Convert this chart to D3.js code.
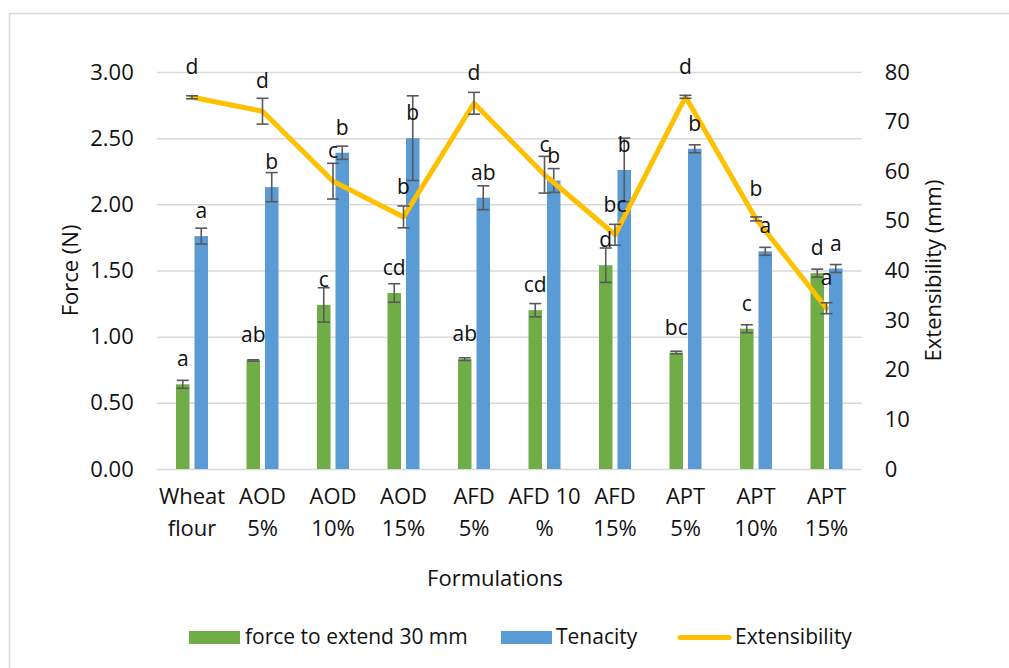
<!DOCTYPE html>
<html>
<head>
<meta charset="utf-8">
<script src="https://cdn.jsdelivr.net/npm/d3@7"></script>
<style>
  body { margin: 0; background: #fff; }
  text { font-family: "Open Sans", sans-serif; fill: #111; }
</style>
</head>
<body>
<svg id="chart" width="1009" height="668"></svg>
<script>
// formulations, two text lines each
const formulations = [
  ["Wheat", "flour"], ["AOD", "5%"], ["AOD", "10%"], ["AOD", "15%"], ["AFD", "5%"],
  ["AFD 10", "%"], ["AFD", "15%"], ["APT", "5%"], ["APT", "10%"], ["APT", "15%"]
];

// force to extend 30 mm (N)
const forceValues  = [0.64, 0.82, 1.24, 1.33, 0.83, 1.20, 1.54, 0.88, 1.06, 1.48];
const forceErr     = [0.03, 0.005, 0.13, 0.07, 0.01, 0.05, 0.13, 0.01, 0.03, 0.03];
const forceLetters = ["a", "ab", "c", "cd", "ab", "cd", "d", "bc", "c", "d"];

// tenacity (N)
const tenacityValues  = [1.76, 2.13, 2.39, 2.50, 2.05, 2.18, 2.26, 2.42, 1.645, 1.515];
const tenacityErr     = [0.06, 0.11, 0.05, 0.32, 0.09, 0.09, 0.24, 0.03, 0.03, 0.03];
const tenacityLetters = ["a", "b", "b", "b", "ab", "b", "b", "b", "a", "a"];

// extensibility (mm)
const extValues  = [74.9, 72.1, 58.0, 50.8, 73.7, 59.3, 47.2, 75.0, 50.4, 32.4];
const extErr     = [0.3, 2.6, 3.6, 2.2, 2.2, 3.7, 2.1, 0.3, 0.4, 1.1];
const extLetters = ["d", "d", "c", "b", "d", "c", "bc", "d", "b", "a"];

const forceTicks = [0, 0.5, 1, 1.5, 2, 2.5, 3];
const extTicks = [0, 10, 20, 30, 40, 50, 60, 70, 80];

const green = "#70AD47", blue = "#5B9BD5", gold = "#FFC000", errColor = "#595959", gridColor = "#d9d9d9";

const svg = d3.select("#chart");

const plotLeft = 156.75, plotRight = 861.75, plotTop = 72, plotBottom = 469;

const x = d3.scaleBand()
  .domain(d3.range(formulations.length))
  .range([plotLeft, plotRight]);

const xSub = d3.scaleBand()
  .domain(["force", "tenacity"])
  .range([-16, 16])
  .paddingInner(0.27);

const yL = d3.scaleLinear().domain([0, 3]).range([plotBottom, plotTop]);
const yR = d3.scaleLinear().domain([0, 80]).range([plotBottom, plotTop]);

const cx = i => x(i) + x.bandwidth() / 2;

// chart border
svg.append("rect")
  .attr("x", 9.5).attr("y", 13.5)
  .attr("width", 1100).attr("height", 700)
  .attr("fill", "none").attr("stroke", gridColor).attr("stroke-width", 1.5);

// gridlines
svg.append("g")
  .attr("transform", `translate(${plotLeft},0)`)
  .call(d3.axisLeft(yL).tickValues(forceTicks).tickSize(-(plotRight - plotLeft)).tickFormat(""))
  .call(g => g.select(".domain").remove())
  .call(g => g.selectAll("line").attr("stroke", gridColor).attr("stroke-width", 1.5));

// left axis
svg.append("g")
  .attr("transform", `translate(${plotLeft},0)`)
  .call(d3.axisLeft(yL).tickValues(forceTicks).tickFormat(d3.format(".2f")).tickSize(0).tickPadding(23))
  .call(g => g.select(".domain").remove())
  .call(g => g.selectAll("text").attr("font-size", 22).attr("fill", "#111"));

// right axis
svg.append("g")
  .attr("transform", `translate(${plotRight},0)`)
  .call(d3.axisRight(yR).tickValues(extTicks).tickSize(0).tickPadding(23))
  .call(g => g.select(".domain").remove())
  .call(g => g.selectAll("text").attr("font-size", 22).attr("fill", "#111"));

// x axis labels
const xAxis = svg.append("g")
  .attr("transform", `translate(0,${plotBottom})`)
  .call(d3.axisBottom(x).tickSize(0).tickFormat(""))
  .call(g => g.select(".domain").remove());

xAxis.selectAll(".tick text")
  .attr("font-size", 22)
  .attr("fill", "#111")
  .attr("y", 0).attr("dy", null)
  .each(function (i) {
    const t = d3.select(this);
    formulations[i].forEach((line, k) => {
      t.append("tspan").attr("x", 0).attr("y", 35 + k * 32).text(line);
    });
  });

// axis titles
svg.append("text")
  .attr("transform", `translate(78,${(plotTop + plotBottom) / 2}) rotate(-90)`)
  .attr("text-anchor", "middle")
  .attr("font-size", 22)
  .text("Force (N)");

svg.append("text")
  .attr("transform", `translate(941,${(plotTop + plotBottom) / 2}) rotate(-90)`)
  .attr("text-anchor", "middle")
  .attr("font-size", 22)
  .text("Extensibility (mm)");

svg.append("text")
  .attr("x", 495).attr("y", 586)
  .attr("text-anchor", "middle")
  .attr("font-size", 22)
  .text("Formulations");

// bars
const series = [
  { key: "force", values: forceValues, err: forceErr, letters: forceLetters, color: green },
  { key: "tenacity", values: tenacityValues, err: tenacityErr, letters: tenacityLetters, color: blue }
];

series.forEach(s => {
  const bx = i => cx(i) + xSub(s.key);
  const g = svg.append("g");
  g.selectAll("rect")
    .data(s.values)
    .enter()
    .append("rect")
    .attr("x", (d, i) => bx(i))
    .attr("y", d => yL(d))
    .attr("width", xSub.bandwidth())
    .attr("height", d => yL(0) - yL(d))
    .attr("fill", s.color);
  s.bx = bx;
});

function errorBars(g, values, err, xf, yScale) {
  const eb = g.selectAll("g")
    .data(values)
    .enter()
    .append("g")
    .attr("stroke", errColor)
    .attr("stroke-width", 1.6);
  eb.append("line")
    .attr("x1", (d, i) => xf(i)).attr("x2", (d, i) => xf(i))
    .attr("y1", (d, i) => yScale(d - err[i])).attr("y2", (d, i) => yScale(d + err[i]));
  eb.append("line")
    .attr("x1", (d, i) => xf(i) - 6).attr("x2", (d, i) => xf(i) + 6)
    .attr("y1", (d, i) => yScale(d + err[i])).attr("y2", (d, i) => yScale(d + err[i]));
  eb.append("line")
    .attr("x1", (d, i) => xf(i) - 6).attr("x2", (d, i) => xf(i) + 6)
    .attr("y1", (d, i) => yScale(d - err[i])).attr("y2", (d, i) => yScale(d - err[i]));
}

series.forEach(s => {
  errorBars(svg.append("g"), s.values, s.err, i => s.bx(i) + xSub.bandwidth() / 2, yL);
});

// extensibility line
const line = d3.line()
  .x((d, i) => cx(i))
  .y(d => yR(d));

svg.append("path")
  .datum(extValues)
  .attr("d", line)
  .attr("fill", "none")
  .attr("stroke", gold)
  .attr("stroke-width", 5)
  .attr("stroke-linejoin", "round")
  .attr("stroke-linecap", "round");

errorBars(svg.append("g"), extValues, extErr, cx, yR);

// letter labels
series.forEach(s => {
  svg.append("g").selectAll("text")
    .data(s.letters)
    .enter()
    .append("text")
    .attr("x", (d, i) => s.bx(i) + xSub.bandwidth() / 2)
    .attr("y", (d, i) => yL(s.values[i]) - 18)
    .attr("text-anchor", "middle")
    .attr("font-size", 21)
    .text(d => d);
});

svg.append("g").selectAll("text")
  .data(extLetters)
  .enter()
  .append("text")
  .attr("x", (d, i) => cx(i))
  .attr("y", (d, i) => yR(extValues[i]) - 23)
  .attr("text-anchor", "middle")
  .attr("font-size", 21)
  .text(d => d);

// legend
const legendItems = [
  { label: "force to extend 30 mm", color: green, type: "rect", sx: 189, tx: 245 },
  { label: "Tenacity", color: blue, type: "rect", sx: 501, tx: 556 },
  { label: "Extensibility", color: gold, type: "line", sx: 678, tx: 735 }
];
const legendY = 644;
const lg = svg.append("g");
legendItems.forEach(it => {
  if (it.type === "rect") {
    lg.append("rect")
      .attr("x", it.sx).attr("y", legendY - 13)
      .attr("width", 51).attr("height", 13)
      .attr("fill", it.color);
  } else {
    lg.append("line")
      .attr("x1", it.sx + 2).attr("x2", it.sx + 51)
      .attr("y1", legendY - 6.5).attr("y2", legendY - 6.5)
      .attr("stroke", it.color).attr("stroke-width", 5)
      .attr("stroke-linecap", "round");
  }
  lg.append("text")
    .attr("x", it.tx).attr("y", legendY)
    .attr("font-size", 21)
    .text(it.label);
});
</script>
</body>
</html>
